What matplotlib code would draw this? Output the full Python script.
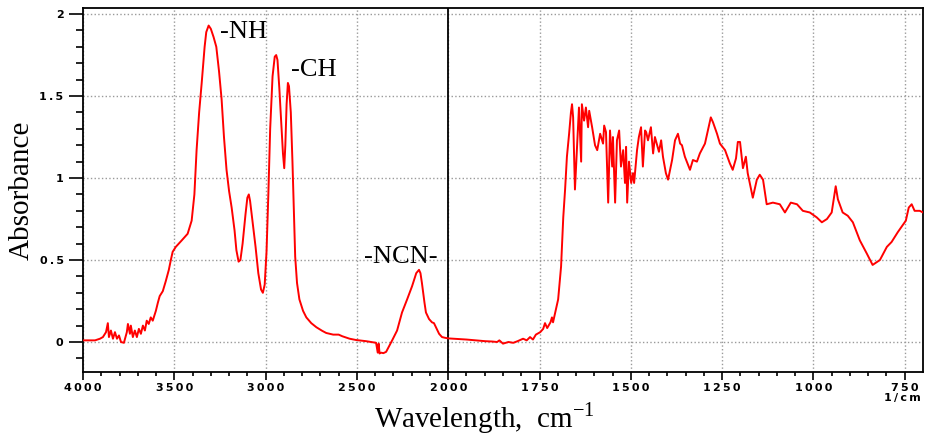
import numpy as np
import matplotlib
matplotlib.use("Agg")
import matplotlib.pyplot as plt
from matplotlib.ticker import FixedLocator, NullFormatter

# FTIR absorbance spectrum (wavenumber in 1/cm, absorbance)
wavenumber = [
    4000, 3934, 3907, 3891, 3874, 3864, 3858, 3847, 3836, 3825, 3814, 3803, 3792,
    3776, 3760, 3754, 3743, 3738, 3727, 3716, 3705, 3694, 3683, 3672, 3661, 3651,
    3640, 3629, 3618, 3601, 3590, 3580, 3563, 3547, 3530, 3519, 3509, 3492, 3459,
    3427, 3405, 3390, 3378, 3364, 3350, 3334, 3325, 3312, 3300, 3285, 3270, 3255,
    3241, 3228, 3214, 3200, 3186, 3170, 3160, 3148, 3138, 3126, 3110, 3100, 3092,
    3085, 3070, 3055, 3040, 3025, 3015, 3005, 2995, 2985, 2975, 2962, 2950, 2942,
    2935, 2925, 2915, 2905, 2898, 2892, 2885, 2878, 2872, 2862, 2853, 2845, 2838,
    2828, 2815, 2795, 2777, 2750, 2722, 2690, 2668, 2630, 2600, 2580, 2540, 2504,
    2450, 2395, 2386, 2381, 2376, 2368, 2355, 2340, 2307, 2280, 2253, 2225, 2198,
    2175, 2160, 2152, 2144, 2130, 2122, 2105, 2089, 2078, 2067, 2050, 2034, 2015,
    2000,
    1950, 1899, 1880, 1866, 1860, 1850, 1835, 1822, 1810, 1795, 1785, 1776, 1768,
    1760, 1748, 1740, 1735, 1729, 1720, 1716, 1713, 1705, 1699, 1691, 1685, 1680,
    1675, 1669, 1664, 1661, 1658, 1653, 1647, 1642, 1636, 1634, 1628, 1623, 1617,
    1614, 1606, 1598, 1592, 1584, 1576, 1573, 1568, 1562, 1557, 1551, 1549, 1543,
    1538, 1532, 1527, 1521, 1516, 1513, 1510, 1505, 1499, 1494, 1491, 1483, 1478,
    1472, 1467, 1461, 1458, 1453, 1445, 1439, 1434, 1428, 1423, 1417, 1412, 1404,
    1398, 1387, 1379, 1371, 1365, 1360, 1352, 1338, 1330, 1319, 1311, 1297, 1289,
    1281, 1275, 1264, 1256, 1242, 1229, 1221, 1212, 1207, 1201, 1193, 1185, 1180,
    1166, 1155, 1147, 1138, 1128, 1111, 1092, 1078, 1062, 1045, 1029, 1010, 991,
    977, 963, 950, 939, 933, 920, 906, 892, 873, 854, 838, 818, 799, 786, 769,
    747, 739, 731, 723, 709, 700,
]
absorbance = [
    0.01, 0.01, 0.02, 0.03, 0.06, 0.115, 0.03, 0.07, 0.02, 0.06, 0.02, 0.04, 0.00,
    -0.005, 0.06, 0.11, 0.05, 0.10, 0.03, 0.07, 0.03, 0.08, 0.05, 0.10, 0.07, 0.13,
    0.11, 0.15, 0.13, 0.19, 0.24, 0.28, 0.31, 0.37, 0.44, 0.50, 0.55, 0.58, 0.62,
    0.66, 0.74, 0.90, 1.17, 1.40, 1.58, 1.80, 1.89, 1.93, 1.91, 1.86, 1.80, 1.65,
    1.48, 1.25, 1.05, 0.92, 0.82, 0.68, 0.56, 0.49, 0.50, 0.60, 0.78, 0.88, 0.90,
    0.86, 0.72, 0.58, 0.42, 0.32, 0.30, 0.35, 0.55, 0.90, 1.30, 1.62, 1.74, 1.75,
    1.72, 1.55, 1.35, 1.15, 1.06, 1.20, 1.45, 1.58, 1.56, 1.40, 1.10, 0.80, 0.52,
    0.36, 0.26, 0.19, 0.15, 0.115, 0.09, 0.068, 0.055, 0.045, 0.045, 0.035, 0.02, 0.012,
    0.005, -0.005, -0.065, -0.01, -0.07, -0.065, -0.068, -0.06, 0.01, 0.07, 0.18, 0.26, 0.34,
    0.42, 0.44, 0.42, 0.36, 0.24, 0.18, 0.14, 0.12, 0.115, 0.09, 0.05, 0.03, 0.025,
    0.022,
    0.015, 0.005, 0.003, 0.00, 0.01, -0.01, 0.00, -0.005, 0.005, 0.02, 0.01, 0.03, 0.015,
    0.045, 0.06, 0.08, 0.115, 0.085, 0.12, 0.15, 0.12, 0.20, 0.26, 0.46, 0.76, 0.93,
    1.13, 1.27, 1.40, 1.45, 1.37, 0.93, 1.21, 1.43, 1.10, 1.45, 1.35, 1.43, 1.31,
    1.41, 1.31, 1.20, 1.17, 1.27, 1.21, 1.32, 1.28, 0.85, 1.29, 1.07, 1.25, 0.85,
    1.23, 1.29, 1.07, 1.17, 0.97, 1.19, 0.85, 1.10, 0.97, 1.03, 0.97, 1.17, 1.25,
    1.31, 1.07, 1.29, 1.28, 1.23, 1.31, 1.15, 1.25, 1.20, 1.16, 1.23, 1.13, 1.03,
    0.99, 1.11, 1.23, 1.27, 1.21, 1.20, 1.13, 1.05, 1.11, 1.10, 1.15, 1.21, 1.29,
    1.37, 1.34, 1.27, 1.21, 1.17, 1.09, 1.05, 1.12, 1.22, 1.22, 1.06, 1.13, 1.03,
    0.88, 0.99, 1.02, 0.99, 0.84, 0.85, 0.84, 0.79, 0.85, 0.84, 0.80, 0.79, 0.76,
    0.73, 0.75, 0.79, 0.95, 0.87, 0.79, 0.77, 0.73, 0.62, 0.54, 0.47, 0.50, 0.58, 0.61, 0.67,
    0.74, 0.82, 0.84, 0.80, 0.80, 0.79,
]

major_x = [4000, 3500, 3000, 2500, 2000, 1750, 1500, 1250, 1000, 750]
minor_x = list(range(3900, 2000, -100)) + list(range(1950, 700, -50))
major_y = [0, 0.5, 1, 1.5, 2]
y_labels = ["0", "0.5", "1", "1.5", "2"]

peak_names = ["-NH", "-CH", "-NCN-"]
peak_pos = [(3252, 1.855), (2859, 1.62), (2460, 0.48)]

SPLIT = 2000  # below this the wavenumber axis is expanded twofold


def fwd(x):
    x = np.asarray(x, dtype=float)
    return np.where(x >= SPLIT, x, 2 * x - SPLIT)


def inv(u):
    u = np.asarray(u, dtype=float)
    return np.where(u >= SPLIT, u, (u + SPLIT) / 2)


def spaced(s):
    # instrument-style wide tick lettering
    return "\u2009".join(s)


serif = "Liberation Serif"
tick_font = {"family": "DejaVu Sans", "weight": "bold", "size": 8}

fig = plt.figure(figsize=(9.25, 4.36), dpi=100)
ax = fig.add_axes([83 / 925, 1 - 372 / 436, 840 / 925, 364 / 436])

ax.set_xscale("function", functions=(fwd, inv))
ax.set_xlim(4000, 700)
ax.set_ylim(-0.183, 2.037)

ax.plot(wavenumber, absorbance, color="#ff0000", lw=1.4, zorder=3)
ax.axvline(SPLIT, color="black", lw=1.3, zorder=2)

ax.xaxis.set_major_locator(FixedLocator(major_x))
ax.xaxis.set_minor_locator(FixedLocator(minor_x))
ax.xaxis.set_minor_formatter(NullFormatter())
ax.set_xticklabels([spaced(str(v)) for v in major_x], fontdict=tick_font)
ax.yaxis.set_major_locator(FixedLocator(major_y))
ax.yaxis.set_minor_locator(FixedLocator(np.arange(-0.1, 2.01, 0.1)))
ax.set_yticklabels([spaced(s) for s in y_labels], fontdict=tick_font)

ax.tick_params(axis="x", which="major", length=6, width=1.2, pad=2)
ax.tick_params(axis="x", which="minor", length=3, width=1.2)
ax.tick_params(axis="y", which="major", length=10, width=1.2, pad=4)
ax.tick_params(axis="y", which="minor", length=5, width=1.2)

ax.grid(True, which="major", color="#9a9a9a", linestyle=":", lw=1.0)
for s in ax.spines.values():
    s.set_linewidth(1.3)

for name, (x, y) in zip(peak_names, peak_pos):
    ax.text(x, y, name, family=serif, fontsize=19, ha="left", va="baseline")

fig.text(921 / 925, 1 - 401 / 436, spaced("1/cm"), ha="right", va="baseline", **tick_font)
fig.text(484 / 925, 1 - 427 / 436, r"Wavelength,  cm$^{\mathregular{-1}}$",
         family=serif, fontsize=21, ha="center", va="baseline")
fig.text(22 / 925, 1 - 190 / 436, "Absorbance", family=serif, fontsize=21,
         rotation=90, ha="center", va="center")

fig.savefig("out.png", dpi=100)
